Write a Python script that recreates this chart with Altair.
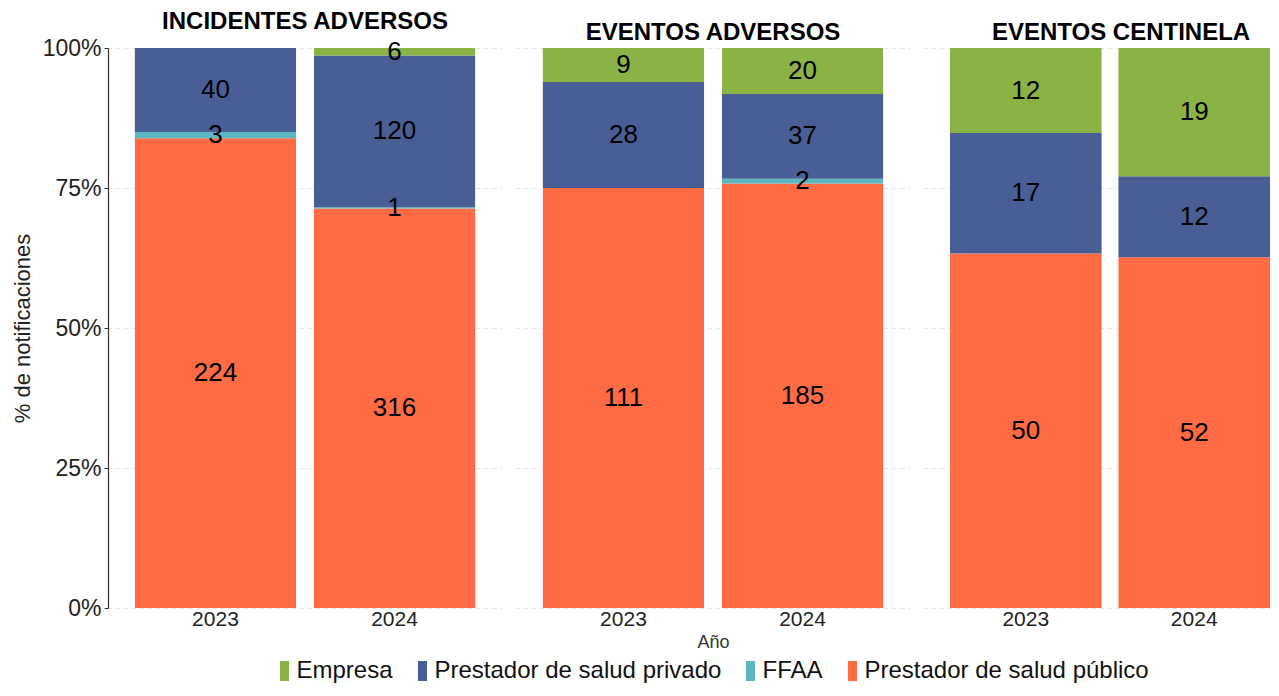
import altair as alt
import pandas as pd

tipos = ["INCIDENTES ADVERSOS", "EVENTOS ADVERSOS", "EVENTOS CENTINELA"]
anios = ["2023", "2024"]
categorias = ["Empresa", "Prestador de salud privado", "FFAA", "Prestador de salud público"]
colores = ["#8BB245", "#4A5E96", "#5BB7C0", "#FF6B43"]
ticks_y = [0, 0.25, 0.5, 0.75, 1]

# values per (tipo, año): INC-2023, INC-2024, EA-2023, EA-2024, EC-2023, EC-2024
publico = [224, 316, 111, 185, 50, 52]
ffaa = [3, 1, 0, 2, 0, 0]
privado = [40, 120, 28, 37, 17, 12]
empresa = [0, 6, 9, 20, 12, 19]

series = {
    "Prestador de salud público": publico,
    "FFAA": ffaa,
    "Prestador de salud privado": privado,
    "Empresa": empresa,
}
orden = {"Prestador de salud público": 0, "FFAA": 1, "Prestador de salud privado": 2, "Empresa": 3}

rows = []
i = 0
for t in tipos:
    for a in anios:
        for cat, vals in series.items():
            rows.append({"tipo": t, "anio": a, "cat": cat, "orden": orden[cat], "n": vals[i]})
        i += 1
df = pd.DataFrame(rows)

FONT = "Liberation Sans"
W, H = 394, 560
W_LAST = 346
GRID_COLOR = "#e3e3e3"

legend = alt.Legend(
    title=None,
    orient="none",
    direction="horizontal",
    legendX=164.5,
    legendY=611,
    labelFontSize=24,
    labelFont=FONT,
    labelColor="#111111",
    labelLimit=500,
    symbolType="M-0.45,-1H0.45V1H-0.45Z",
    symbolSize=400,
    symbolStrokeWidth=0,
    symbolOpacity=1,
    labelOffset=0,
    columnPadding=17,
)


def panel(idx, t):
    last = idx == len(tipos) - 1
    base = (
        alt.Chart(df)
        .transform_filter(alt.datum.tipo == t)
        .transform_filter(alt.datum.n > 0)
        .transform_stack(
            stack="n",
            groupby=["tipo", "anio"],
            as_=["y0", "y1"],
            offset="normalize",
            sort=[alt.SortField("orden", order="ascending")],
        )
        .transform_calculate(mid="(datum.y0 + datum.y1) / 2")
    )
    yscale = alt.Scale(domain=[0, 1])
    if idx == 0:
        yaxis = alt.Axis(
            title="% de notificaciones",
            titleFontSize=22,
            titleFontWeight="normal",
            titleColor="#222222",
            titlePadding=8,
            format=".0%",
            values=ticks_y,
            labelFontSize=23,
            labelColor="#222222",
            labelPadding=3,
            tickSize=4,
            tickColor="#333333",
            domainColor="#333333",
            domainWidth=1.2,
            grid=True,
            gridDash=[4, 4],
            gridColor=GRID_COLOR,
        )
    else:
        yaxis = alt.Axis(
            title=None,
            labels=False,
            ticks=False,
            domain=False,
            values=ticks_y,
            grid=True,
            gridDash=[4, 4],
            gridColor=GRID_COLOR,
        )
    xaxis = alt.Axis(
        title="Año" if idx == 1 else None,
        titleFontSize=18,
        titleFontWeight="normal",
        titleColor="#333333",
        titlePadding=4,
        labelAngle=0,
        labelFontSize=21,
        labelColor="#222222",
        labelPadding=0,
        ticks=False,
        domain=False,
        grid=False,
    )
    if last:
        xscale = alt.Scale(domain=anios, paddingInner=0.1, paddingOuter=0.0772, align=1)
    else:
        xscale = alt.Scale(domain=anios, paddingInner=0.1, paddingOuter=0.15)
    bars = base.mark_bar().encode(
        x=alt.X("anio:N", scale=xscale, axis=xaxis),
        y=alt.Y("y0:Q", scale=yscale, axis=yaxis),
        y2="y1:Q",
        color=alt.Color("cat:N", scale=alt.Scale(domain=categorias, range=colores), legend=legend),
    )
    texts = base.mark_text(fontSize=26, font=FONT, color="black", baseline="middle").encode(
        x=alt.X("anio:N", scale=xscale, axis=xaxis),
        y=alt.Y("mid:Q", scale=yscale, axis=yaxis),
        text="n:Q",
    )
    pw = W_LAST if last else W
    return alt.layer(bars, texts).properties(
        width=pw,
        height=H,
        title=alt.TitleParams(
            text=t,
            fontSize=24,
            fontWeight="bold",
            font=FONT,
            color="black",
            anchor="middle",
            offset=3,
            dx=(W - pw) / 2,
        ),
    )


chart = (
    alt.hconcat(*[panel(i, t) for i, t in enumerate(tipos)], spacing=14)
    .properties(padding={"left": 3, "top": 2, "right": 0, "bottom": 0})
    .configure(font=FONT)
    .configure_view(stroke=None)
)

chart.save("out.html", embed_options={"renderer": "svg", "actions": False})
